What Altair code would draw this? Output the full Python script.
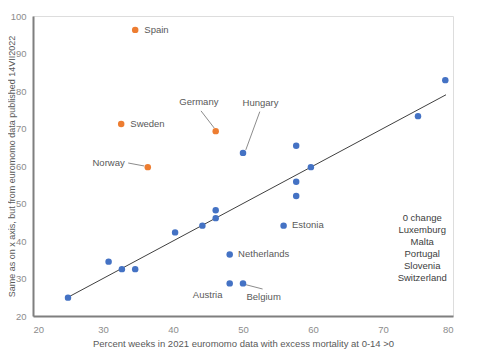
import altair as alt
import pandas as pd

# ---- data ----
names = ["Spain", "Sweden", "Germany", "Norway",
         "Hungary", "", "", "", "", "", "", "Estonia", "", "", "", "",
         "Netherlands", "", "", "", "Austria", "Belgium", ""]
xs = [34.6, 32.6, 46.1, 36.4,
      50.0, 57.6, 59.7, 78.9, 75.0, 57.6, 57.6, 55.8, 46.1, 46.1, 44.2, 40.3,
      48.1, 30.8, 32.7, 34.6, 48.1, 50.0, 25.0]
ys = [96.3, 71.2, 69.3, 59.7,
      63.5, 65.4, 59.7, 82.9, 73.3, 55.8, 52.0, 44.1, 48.2, 46.1, 44.1, 42.3,
      36.4, 34.5, 32.5, 32.5, 28.7, 28.7, 24.9]
groups = ["orange"] * 4 + ["blue"] * 19

# identity line y = x
line_x = [25, 79]
line_y = [25, 79]

# label anchors (data units)
lab_names = ["Spain", "Sweden", "Norway", "Germany", "Hungary", "Estonia",
             "Netherlands", "Austria", "Belgium"]
lab_x = [35.9, 33.9, 33.1, 43.7, 52.5, 57.0, 49.3, 44.95, 50.5]
lab_y = [96.3, 71.2, 60.8, 77.1, 76.7, 44.3, 36.5, 25.6, 25.1]
lab_align = ["left", "left", "right", "center", "center", "left", "left",
             "center", "left"]

# leader lines (data units)
lead_x = [33.6, 44.0, 52.4, 50.1]
lead_y = [60.8, 74.7, 74.5, 28.5]
lead_x2 = [35.9, 45.9, 50.4, 52.8]
lead_y2 = [60.0, 70.1, 64.3, 27.2]

note_text = "0 change\nLuxemburg\nMalta\nPortugal\nSlovenia\nSwitzerland"
note_x = [75.6]
note_y = [47.6]

x_ticks = [20, 30, 40, 50, 60, 70, 80]
y_ticks = [20, 30, 40, 50, 60, 70, 80, 90, 100]

FONT = "Liberation Sans"
TXT = "#595959"

pts = pd.DataFrame({"name": names, "x": xs, "y": ys, "g": groups})
ln = pd.DataFrame({"x": line_x, "y": line_y})
labs = pd.DataFrame({"name": lab_names, "x": lab_x, "y": lab_y, "align": lab_align})
leads = pd.DataFrame({"x": lead_x, "y": lead_y, "x2": lead_x2, "y2": lead_y2})
note = pd.DataFrame({"x": note_x, "y": note_y, "t": [note_text]})

xscale = alt.Scale(domain=[20, 80], nice=False, zero=False)
yscale = alt.Scale(domain=[20, 100], nice=False, zero=False)

xaxis = alt.Axis(values=x_ticks, grid=False, ticks=False, domainColor="#7f7f7f",
                 domainWidth=2, labelColor="#8c8c8c", labelFontSize=9.5,
                 labelFont=FONT, labelPadding=8, labelOverlap=False,
                 title="Percent weeks in 2021 euromomo data with excess mortality at 0-14 >0",
                 titleFont=FONT, titleFontSize=9.5, titleFontWeight="normal",
                 titleColor=TXT, titlePadding=5)
yaxis = alt.Axis(values=y_ticks, grid=False, ticks=False, domainColor="#7f7f7f",
                 domainWidth=2, labelColor="#8c8c8c", labelFontSize=9.5,
                 labelFont=FONT, labelPadding=7, labelOverlap=False,
                 title="Same as on x axis, but from euromomo data published  14VII2022",
                 titleFont=FONT, titleFontSize=9, titleFontWeight="normal",
                 titleColor=TXT, titleX=-17, titleBaseline="bottom")

X = alt.X("x:Q", scale=xscale, axis=xaxis)
Y = alt.Y("y:Q", scale=yscale, axis=yaxis)

line = alt.Chart(ln).mark_line(color="#404040", strokeWidth=1).encode(x=X, y=Y)

leader = alt.Chart(leads).mark_rule(color="#8c8c8c", strokeWidth=1).encode(
    x=X, y=Y, x2="x2:Q", y2="y2:Q"
)

points = alt.Chart(pts).mark_circle(size=42, opacity=1).encode(
    x=X, y=Y,
    color=alt.Color("g:N", scale=alt.Scale(domain=["blue", "orange"],
                                           range=["#4472C4", "#ED7D31"]),
                    legend=None),
)

def text_layer(al):
    return alt.Chart(labs).transform_filter(alt.datum.align == al).mark_text(
        align=al, baseline="middle", font=FONT, fontSize=9.5, color=TXT
    ).encode(x=X, y=Y, text="name:N")

notes = alt.Chart(note).mark_text(
    align="center", baseline="top", font=FONT, fontSize=9.5, color="#404040",
    lineBreak="\n", lineHeight=12
).encode(x=X, y=Y, text="t:N")

chart = alt.layer(line, leader, points, text_layer("left"), text_layer("right"),
                  text_layer("center"), notes).properties(
    width=420, height=300,
    autosize=alt.AutoSizeParams(type="none"),
    padding={"left": 25, "top": 8, "right": 20, "bottom": 38},
).configure_view(stroke="#222222", strokeWidth=2).configure(background="white")

chart.save("out.html", embed_options={"renderer": "svg", "actions": False})
